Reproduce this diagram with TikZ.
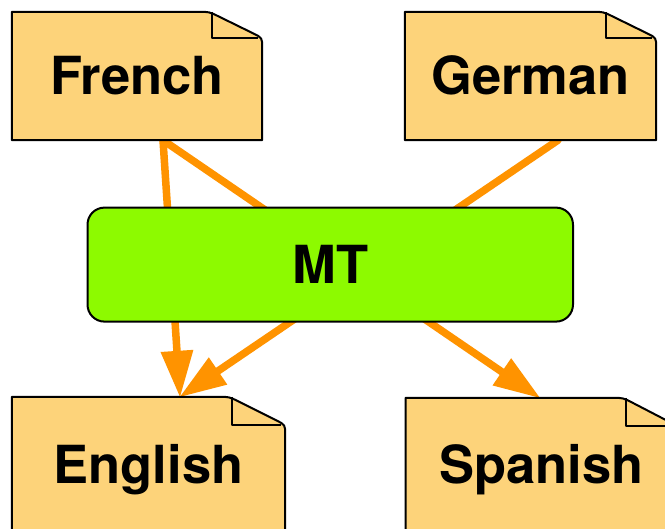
\documentclass[tikz,border=0pt]{standalone}
\usepackage{fontspec}
\setmainfont{TeX Gyre Heros}
\usetikzlibrary{arrows.meta,backgrounds}

\definecolor{docfill}{RGB}{253,211,122}
\definecolor{mtfill}{RGB}{141,250,0}
\definecolor{flow}{RGB}{255,147,0}

\tikzset{
  lbl/.style={font=\fontsize{52.5}{60}\selectfont\bfseries,
              text height=37.5pt, text depth=0pt, inner sep=0pt},
  docbox/.style={lbl},
  docline/.style={draw=black, line width=2pt, fill=docfill, line join=round},
  foldline/.style={draw=black, line width=2pt, line join=round},
  mtbox/.style={lbl, draw=black, line width=2pt, fill=mtfill,
                rounded corners=17pt},
  flowline/.style={draw=flow, line width=7.5pt, line cap=round,
                   -{Triangle[length=46pt,width=33pt,line width=0pt]}}
}

% Outline of a document with a folded top-right corner.
% #1 node name, #2 fold width, #3 fold depth (pt)
\newcommand\docoutline[3]{%
  \begin{scope}[shift={(#1.north east)}]
    \pgfmathsetmacro\dfl{sqrt(#2*#2+#3*#3)}
    \pgfmathsetmacro\dax{-#2+11*#2/\dfl}
    \pgfmathsetmacro\day{11*#3/\dfl}
    \pgfmathsetmacro\dbx{-10*#2/\dfl}
    \pgfmathsetmacro\dby{#3-10*#3/\dfl}
    \path[docline] (#1.south west) -- (#1.north west) -- (-#2-11,0)
      .. controls (-#2,0) .. (\dax,\day) -- (\dbx,\dby)
      .. controls (0,#3) .. (0,#3+10) -- (#1.south east) -- cycle;
    \draw[foldline] (-#2+3,0) -- (-#2+3,#3) -- (-4,#3);
  \end{scope}}

\begin{document}
\begin{tikzpicture}[x=1pt,y=-1pt]
  \useasboundingbox (0,0) rectangle (665,529);

  % the four documents
  \node[docbox, minimum width=250pt, minimum height=128pt] (french) at (137,76) {French};
  \node[docbox, minimum width=251pt, minimum height=128pt] (german) at (530.5,76) {German};
  \node[docbox, minimum width=273pt, minimum height=135pt] (english) at (148.5,464.5) {English};
  \node[docbox, minimum width=271pt, minimum height=134pt] (spanish) at (541.3,465) {Spanish};

  % ports on the document edges
  \coordinate (frOut) at ([xshift=26pt]french.south);
  \coordinate (deOut) at ([xshift=27.5pt]german.south);
  \coordinate (enIn) at ([xshift=31.5pt]english.north);
  \coordinate (esIn) at ([xshift=-1.5pt]spanish.north);

  \begin{scope}[on background layer]
    % translation flows (passing behind the MT box)
    \draw[flowline] (frOut) -- (enIn);
    \draw[flowline] (frOut) -- (esIn);
    \draw[flowline] (deOut) -- (enIn);
    % document shapes
    \docoutline{french}{53}{26}
    \docoutline{german}{53}{26}
    \docoutline{english}{56}{28}
    \docoutline{spanish}{54}{28}
  \end{scope}

  % translation system
  \node[mtbox, minimum width=485.5pt, minimum height=114pt] (mt) at (330.25,264.6) {MT};
\end{tikzpicture}
\end{document}
